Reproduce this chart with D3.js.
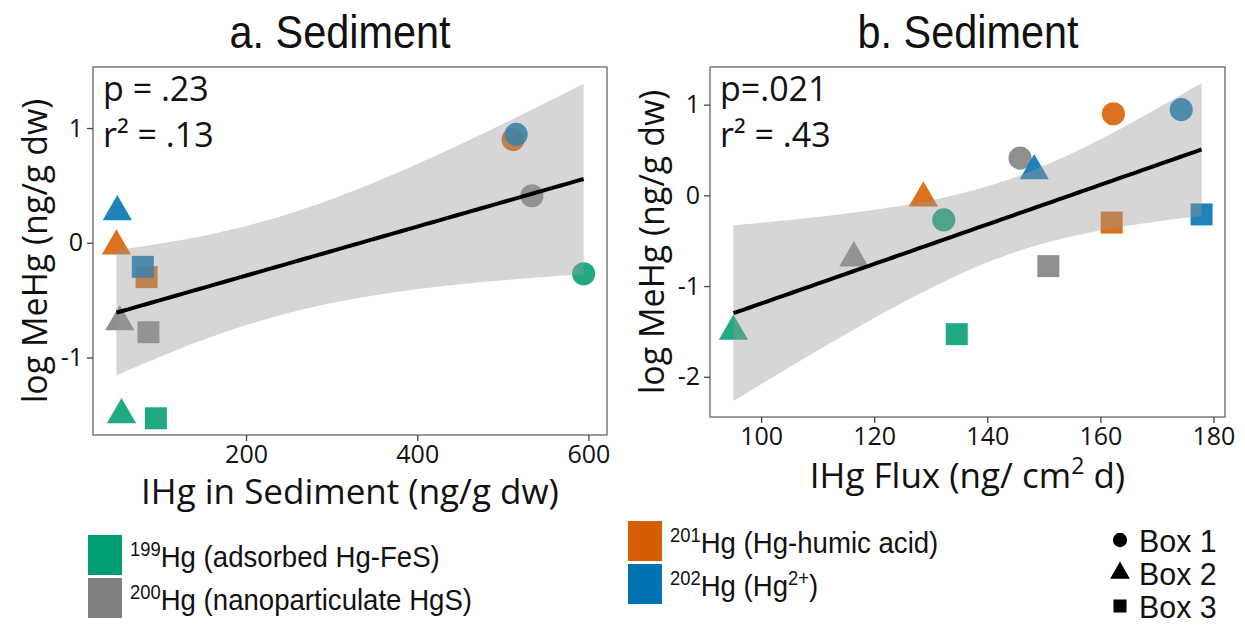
<!DOCTYPE html>
<html>
<head>
<meta charset="utf-8">
<script src="https://cdn.jsdelivr.net/npm/d3@7"></script>
<style>
  body { margin: 0; background: #fff; }
  text { fill: #111; }
</style>
</head>
<body>
<svg width="1245" height="629"></svg>
<script>
// isotopes and boxes
var isotopes = ["199", "200", "201", "202"];
var isotopeNames = ["(adsorbed Hg-FeS)", "(nanoparticulate HgS)", "(Hg-humic acid)", "(Hg"];
var isotopeColors = ["#009E73", "#808080", "#D55E00", "#0072B2"];
var boxNames = ["Box 1", "Box 2", "Box 3"];

// one entry per sample: isotope, box, log MeHg, IHg in sediment, IHg flux
var pointIsotope = ["199", "199", "199", "200", "200", "200", "201", "201", "201", "202", "202", "202"];
var pointBox     = ["Box 1", "Box 2", "Box 3", "Box 1", "Box 2", "Box 3", "Box 1", "Box 2", "Box 3", "Box 1", "Box 2", "Box 3"];
var meHg         = [-0.27, -1.50, -1.53, 0.41, -0.69, -0.78, 0.90, -0.03, -0.30, 0.945, 0.27, -0.21];
var ihgSediment  = [594.4, 54.5, 94.7, 534, 52.5, 86, 512, 48.5, 83.8, 515.6, 49.6, 79.4];
var ihgFlux      = [132.3, 95.1, 134.6, 145.8, 116.4, 150.8, 162.3, 128.7, 162.0, 174.3, 148.3, 177.9];

var statsA = ["p = .23", "r² = .13"];
var statsB = ["p=.021", "r² = .43"];
var xTicksA = [200, 400, 600];
var yTicksA = [-1, 0, 1];
var xTicksB = [100, 120, 140, 160, 180];
var yTicksB = [-2, -1, 0, 1];

var svg = d3.select("svg");

var shapeOf = {
  "Box 1": d3.symbolCircle,
  "Box 2": d3.symbolTriangle,
  "Box 3": d3.symbolSquare
};
var sizeOf = { "Box 1": 420, "Box 2": 370, "Box 3": 484 };
var colorScale = d3.scaleOrdinal().domain(isotopes).range(isotopeColors);

// linear fit with 95% confidence band, like geom_smooth(method = "lm")
function lmBand(xs, ys) {
  var n = xs.length, mx = d3.mean(xs), my = d3.mean(ys);
  var sxx = d3.sum(xs, function(x) { return (x - mx) * (x - mx); });
  var sxy = d3.sum(xs.map(function(x, i) { return (x - mx) * (ys[i] - my); }));
  var b = sxy / sxx, a = my - b * mx;
  var sse = d3.sum(xs.map(function(x, i) { return Math.pow(ys[i] - (a + b * x), 2); }));
  var s = Math.sqrt(sse / (n - 2));
  var t = 2.228; // t quantile 0.975, df = 10
  var lo = d3.min(xs), hi = d3.max(xs);
  return d3.range(80).map(function(i) {
    var x = lo + i * (hi - lo) / 79;
    var fit = a + b * x;
    var se = s * Math.sqrt(1 / n + (x - mx) * (x - mx) / sxx);
    return { x: x, fit: fit, lo: fit - t * se, hi: fit + t * se };
  });
}

function expand(ext) {
  var r = ext[1] - ext[0];
  return [ext[0] - 0.05 * r, ext[1] + 0.05 * r];
}

function drawPanel(o) {
  var band = lmBand(o.xs, meHg);
  var x = d3.scaleLinear().domain(expand(d3.extent(o.xs))).range([o.left, o.right]);
  var yExt = d3.extent(meHg.concat(band.map(function(d) { return d.lo; }), band.map(function(d) { return d.hi; })));
  var y = d3.scaleLinear().domain(expand(yExt)).range([o.bottom, o.top]);

  var g = svg.append("g");

  g.append("g").selectAll("path")
    .data(o.xs.map(function(v, i) { return { x: v, y: meHg[i], iso: pointIsotope[i], box: pointBox[i] }; }))
    .enter()
    .append("path")
    .attr("transform", function(d) { return "translate(" + x(d.x) + "," + y(d.y) + ")"; })
    .attr("d", function(d) { return d3.symbol().type(shapeOf[d.box]).size(sizeOf[d.box])(); })
    .attr("fill", function(d) { return colorScale(d.iso); })
    .attr("opacity", 0.88);

  g.append("path")
    .datum(band)
    .attr("d", d3.area().x(function(d) { return x(d.x); }).y0(function(d) { return y(d.lo); }).y1(function(d) { return y(d.hi); }))
    .attr("fill", "#999")
    .attr("fill-opacity", 0.4);

  g.append("path")
    .datum(band)
    .attr("d", d3.line().x(function(d) { return x(d.x); }).y(function(d) { return y(d.fit); }))
    .attr("fill", "none")
    .attr("stroke", "#000")
    .attr("stroke-width", 4);

  g.append("rect")
    .attr("x", o.left).attr("y", o.top)
    .attr("width", o.right - o.left).attr("height", o.bottom - o.top)
    .attr("fill", "none").attr("stroke", "#666").attr("stroke-width", 1.3);

  var xa = g.append("g")
    .attr("transform", "translate(0," + o.bottom + ")")
    .call(d3.axisBottom(x).tickValues(o.xTicks).tickSize(6).tickPadding(4));
  var ya = g.append("g")
    .attr("transform", "translate(" + o.left + ",0)")
    .call(d3.axisLeft(y).tickValues(o.yTicks).tickSize(6).tickPadding(4).tickFormat(function(d) { return String(d); }));
  [xa, ya].forEach(function(a) {
    a.select(".domain").remove();
    a.selectAll("line").attr("stroke", "#444").attr("stroke-width", 1.3);
    a.selectAll("text").attr("font-family", "Open Sans").attr("font-size", 25).attr("fill", "#111");
  });

  o.stats.forEach(function(s, i) {
    g.append("text")
      .attr("x", o.left + 10).attr("y", o.top + 34 + i * 46)
      .attr("font-family", "Open Sans").attr("font-size", 34)
      .text(s);
  });

  g.append("text")
    .attr("transform", "translate(" + o.titleX + ",48) scale(0.9,1)")
    .attr("text-anchor", "middle")
    .attr("font-family", "Liberation Sans").attr("font-size", 46)
    .text(o.title);

  g.append("text")
    .attr("transform", "translate(" + o.yTitleX + "," + ((o.top + o.bottom) / 2) + ") rotate(-90)")
    .attr("text-anchor", "middle")
    .attr("font-family", "Open Sans").attr("font-size", 34)
    .text("log MeHg (ng/g dw)");

  var xt = g.append("text")
    .attr("x", (o.left + o.right) / 2).attr("y", o.xTitleY)
    .attr("text-anchor", "middle")
    .attr("font-family", "Open Sans").attr("font-size", 35);
  o.xTitle(xt);
}

drawPanel({
  left: 93, right: 607, top: 67, bottom: 435,
  xs: ihgSediment, xTicks: xTicksA, yTicks: yTicksA, stats: statsA,
  title: "a. Sediment", titleX: 340, yTitleX: 47, xTitleY: 504,
  xTitle: function(t) { t.text("IHg in Sediment (ng/g dw)"); }
});

drawPanel({
  left: 710, right: 1225, top: 67, bottom: 417,
  xs: ihgFlux, xTicks: xTicksB, yTicks: yTicksB, stats: statsB,
  title: "b. Sediment", titleX: 968, yTitleX: 664, xTitleY: 488,
  xTitle: function(t) {
    t.append("tspan").text("IHg Flux (ng/ cm");
    t.append("tspan").attr("font-size", 23).attr("dy", -14).text("2");
    t.append("tspan").attr("dy", 14).text(" d)");
  }
});

// isotope legend
var legendPos = [[88, 535], [88, 578], [628, 521], [628, 564]];
isotopes.forEach(function(iso, i) {
  var p = legendPos[i];
  svg.append("rect")
    .attr("x", p[0]).attr("y", p[1]).attr("width", 34).attr("height", 40)
    .attr("fill", isotopeColors[i]);
  var t = svg.append("text")
    .attr("transform", "translate(" + (p[0] + 42) + "," + (p[1] + 32) + ") scale(0.92,1)")
    .attr("font-family", "Liberation Sans").attr("font-size", 30);
  t.append("tspan").attr("font-size", 20).attr("dy", -11).text(iso);
  t.append("tspan").attr("dy", 11).text("Hg " + isotopeNames[i]);
  if (iso === "202") {
    t.append("tspan").attr("font-size", 20).attr("dy", -11).text("2+");
    t.append("tspan").attr("dy", 11).text(")");
  }
});

// box (shape) legend
var boxLegendY = [540, 573, 606];
var boxLegendSize = { "Box 1": 160, "Box 2": 170, "Box 3": 170 };
boxNames.forEach(function(b, i) {
  svg.append("path")
    .attr("transform", "translate(1120," + boxLegendY[i] + ")")
    .attr("d", d3.symbol().type(shapeOf[b]).size(boxLegendSize[b])())
    .attr("fill", "#000");
  svg.append("text")
    .attr("transform", "translate(1139," + (boxLegendY[i] + 12) + ") scale(0.95,1)")
    .attr("font-family", "Liberation Sans").attr("font-size", 32)
    .text(b);
});
</script>
</body>
</html>
